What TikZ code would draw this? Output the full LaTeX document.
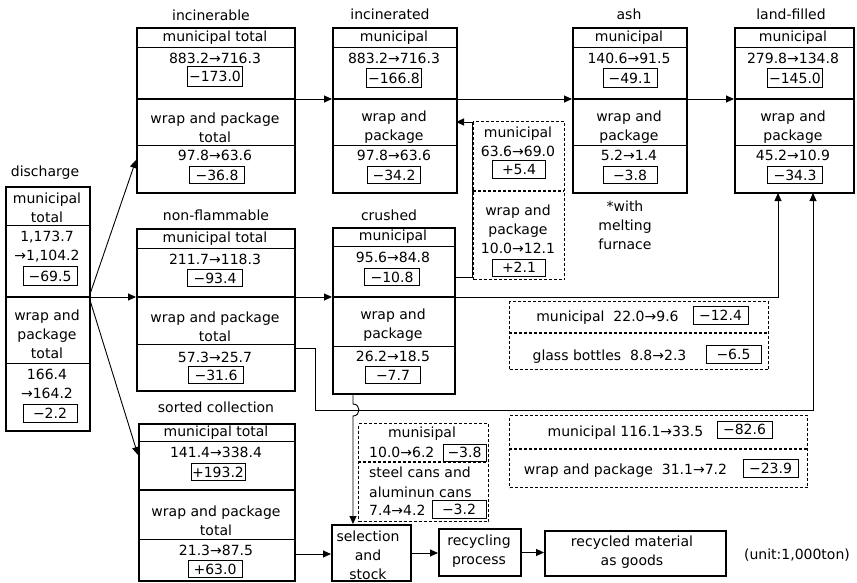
\documentclass[tikz,border=0pt]{standalone}
\usepackage{fontspec}
\setmainfont{DejaVu Sans}
\usetikzlibrary{arrows.meta}
\begin{document}
\begin{tikzpicture}[x=1pt,y=-1pt,
  every node/.style={font=\fontsize{14}{19}\selectfont, inner sep=0pt, align=center},
  mainbox/.style={draw, line width=2pt, anchor=north west},
  valbox/.style={draw, line width=0.8pt, minimum width=55pt, minimum height=18pt},
  dbox/.style={draw, line width=1.4pt, dash pattern=on 3pt off 2pt, anchor=north west},
  dline/.style={line width=1.4pt, dash pattern=on 3pt off 2pt},
  thinln/.style={line width=0.8pt},
  thickln/.style={line width=2pt},
  arr/.style={line width=0.9pt, -{Triangle[length=8pt,width=7pt]}},
  lft/.style={anchor=west},
]
\useasboundingbox (0,0) rectangle (857,582);

% ---------- main boxes ----------
\node[mainbox, minimum width=84pt,  minimum height=244pt] (dis) at (5,186) {};
\node[mainbox, minimum width=158pt, minimum height=165pt] (inb) at (136,27) {};
\node[mainbox, minimum width=124pt, minimum height=165pt] (ind) at (332,27) {};
\node[mainbox, minimum width=114pt, minimum height=165pt] (ash) at (572,27) {};
\node[mainbox, minimum width=119pt, minimum height=165pt] (lf)  at (734,27) {};
\node[mainbox, minimum width=158pt, minimum height=162pt] (nf)  at (136,228) {};
\node[mainbox, minimum width=122pt, minimum height=166pt] (cr)  at (332,227) {};
\node[mainbox, minimum width=156pt, minimum height=157pt] (sc)  at (138,423) {};
\node[mainbox, minimum width=79pt,  minimum height=56pt]  (sel) at (331,524) {};
\node[mainbox, minimum width=82pt,  minimum height=47pt]  (rp)  at (438,528) {};
\node[mainbox, minimum width=181pt, minimum height=45pt]  (rm)  at (544,530) {};

% dashed boxes
\node[dbox, minimum width=91pt,  minimum height=158pt] (da) at (473,121) {};
\node[dbox, minimum width=259pt, minimum height=68pt]  (db) at (509,301) {};
\node[dbox, minimum width=298pt, minimum height=72pt]  (dc) at (509,415) {};
\node[dbox, minimum width=130pt, minimum height=98pt]  (dd) at (358,423) {};

% ---------- dividers ----------
% discharge
\draw[thinln] (5,225) -- (89,225);
\draw[thickln] (5,297) -- (89,297);
\draw[thinln] (5,363) -- (89,363);
% top row
\foreach \a/\b in {136/294, 332/456, 572/686, 734/853}{
  \draw[thinln] (\a,47) -- (\b,47);
  \draw[thickln] (\a,99) -- (\b,99);
  \draw[thinln] (\a,145) -- (\b,145);
}
% non-flammable
\draw[thinln] (136,248) -- (294,248);
\draw[thickln] (136,297) -- (294,297);
\draw[thinln] (136,344) -- (294,344);
% crushed
\draw[thinln] (332,246) -- (454,246);
\draw[thickln] (332,297) -- (454,297);
\draw[thinln] (332,346) -- (454,346);
% sorted collection
\draw[thinln] (138,441) -- (294,441);
\draw[thickln] (138,490) -- (294,490);
\draw[thinln] (138,539) -- (294,539);
% dashed dividers
\draw[dline] (473,191) -- (564,191);
\draw[dline] (509,333) -- (768,333);
\draw[dline] (509,449) -- (807,449);
\draw[dline] (358,462) -- (488,462);

% ---------- discharge ----------
\node (tdis) at (45,173) {discharge};
\node (dis1) at (47,207.5) {municipal\\total};
\node (dis2) at (47,247) {1,173.7\\→1,104.2};
\node[valbox, minimum width=54pt, minimum height=19pt] (dis3) at (50,276) {−69.5};
\node (dis4) at (47,334.5) {wrap and\\package\\total};
\node (dis5) at (47,383.5) {166.4\\→164.2};
\node[valbox, minimum width=54pt, minimum height=18pt] (dis6) at (50,413) {−2.2};

% ---------- incinerable ----------
\node (tinb) at (211,15) {incinerable};
\node (inb1) at (215,37.5) {municipal total};
\node (inb2) at (215,58.5) {883.2→716.3};
\node[valbox, minimum height=20pt] (inb3) at (215,76) {−173.0};
\node (inb4) at (215,127.5) {wrap and package\\total};
\node (inb5) at (215,155.5) {97.8→63.6};
\node[valbox, minimum height=17pt] (inb6) at (217,175) {−36.8};

% ---------- incinerated ----------
\node (tind) at (390,14) {incinerated};
\node (ind1) at (394,37.5) {municipal};
\node (ind2) at (394,58.5) {883.2→716.3};
\node[valbox, minimum height=19pt] (ind3) at (394,78) {−166.8};
\node (ind4) at (394,127) {wrap and\\package};
\node (ind5) at (394,155.5) {97.8→63.6};
\node[valbox, minimum width=53pt, minimum height=17pt] (ind6) at (394,175) {−34.2};

% ---------- ash ----------
\node (tash) at (629,14) {ash};
\node (ash1) at (629,37.5) {municipal};
\node (ash2) at (629,58.5) {140.6→91.5};
\node[valbox, minimum width=54pt, minimum height=19pt] (ash3) at (630,78) {−49.1};
\node (ash4) at (629,127) {wrap and\\package};
\node (ash5) at (629,155.5) {5.2→1.4};
\node[valbox, minimum width=54pt, minimum height=17pt] (ash6) at (630,175) {−3.8};

% ---------- land-filled ----------
\node (tlf) at (791,14) {land-filled};
\node (lf1) at (793,37.5) {municipal};
\node (lf2) at (793,58.5) {279.8→134.8};
\node[valbox, minimum height=19pt] (lf3) at (795,78) {−145.0};
\node (lf4) at (793,127) {wrap and\\package};
\node (lf5) at (793,155.5) {45.2→10.9};
\node[valbox, minimum height=17pt] (lf6) at (795,175) {−34.3};

% ---------- non-flammable ----------
\node (tnf) at (216,215) {non-flammable};
\node (nf1) at (215,238.5) {municipal total};
\node (nf2) at (215,259.5) {211.7→118.3};
\node[valbox, minimum height=17pt] (nf3) at (215,278) {−93.4};
\node (nf4) at (215,326.5) {wrap and package\\total};
\node (nf5) at (215,357.5) {57.3→25.7};
\node[valbox, minimum height=17pt] (nf6) at (216,375) {−31.6};

% ---------- crushed ----------
\node (tcr) at (389,215) {crushed};
\node (cr1) at (393,237) {municipal};
\node (cr2) at (393,257.5) {95.6→84.8};
\node[valbox, minimum height=17pt] (cr3) at (392,277) {−10.8};
\node (cr4) at (393,325.5) {wrap and\\package};
\node (cr5) at (393,356.5) {26.2→18.5};
\node[valbox, minimum height=17pt] (cr6) at (393,375) {−7.7};

% ---------- sorted collection ----------
\node (tsc) at (216,407) {sorted collection};
\node (sc1) at (216,432.5) {municipal total};
\node (sc2) at (216,452.5) {141.4→338.4};
\node[valbox, minimum width=54pt, minimum height=17pt] (sc3) at (218,472) {+193.2};
\node (sc4) at (216,521) {wrap and package\\total};
\node (sc5) at (216,550.5) {21.3→87.5};
\node[valbox, minimum width=54pt, minimum height=17pt] (sc6) at (215,569) {+63.0};

% ---------- bottom chain ----------
\node (sel1) at (368,555.5) {selection\\and\\stock};
\node (rp1) at (479,551) {recycling\\process};
\node (rm1) at (632,552) {recycled material\\as goods};
\node (unit) at (797,555) {(unit:1,000ton)};

% ---------- dashed box contents ----------
\node (da1) at (518,142) {municipal\\63.6→69.0};
\node[valbox, minimum width=53pt, minimum height=18pt] (da2) at (519,169) {+5.4};
\node (da3) at (518,229.5) {wrap and\\package\\10.0→12.1};
\node[valbox, minimum width=53pt, minimum height=17pt] (da4) at (519,267.5) {+2.1};

\node (db1) at (607.5,317.5) {municipal\ \ 22.0→9.6};
\node[valbox, minimum height=18pt] (db2) at (720.5,315) {−12.4};
\node (db3) at (609.5,356.5) {glass bottles\ \ 8.8→2.3};
\node[valbox, minimum height=18pt] (db4) at (733.5,354) {−6.5};

\node (dc1) at (625.5,432.5) {municipal 116.1→33.5};
\node[valbox, minimum height=17pt] (dc2) at (744.5,429.5) {−82.6};
\node (dc3) at (625.5,470.5) {wrap and package\ \ 31.1→7.2};
\node[valbox, minimum height=18pt] (dc4) at (770.5,468) {−23.9};

\node (dd1) at (422,433.5) {munisipal};
\node[lft] (dd2) at (369,452.5) {10.0→6.2};
\node[valbox, minimum width=43pt, minimum height=17pt] (dd3) at (464.5,452.5) {−3.8};
\node[lft] (dd4) at (369,472.5) {steel cans and};
\node[lft] (dd5) at (369,492.5) {aluminun cans};
\node[lft] (dd6) at (369,510.5) {7.4→4.2};
\node[valbox, minimum width=54pt, minimum height=18pt] (dd7) at (459,509) {−3.2};

\node (note) at (625,225.5) {*with\\melting\\furnace};

% ---------- connectors ----------
\coordinate (dOut) at (89,297);
\coordinate (inbIn) at (136,160);
\coordinate (nfIn) at (136,297);
\coordinate (scIn) at (138,455);
\draw[arr] (dOut) -- (inbIn);
\draw[arr] (dOut) -- (nfIn);
\draw[arr] (dOut) -- (scIn);

\coordinate (inbR) at (294,99);
\coordinate (indL) at (332,99);
\coordinate (indR) at (456,99);
\coordinate (ashL) at (572,99);
\coordinate (ashR) at (686,99);
\coordinate (lfL) at (734,99);
\draw[arr] (inbR) -- (indL);
\draw[arr] (indR) -- (ashL);
\draw[arr] (ashR) -- (lfL);

\coordinate (nfR) at (294,297);
\coordinate (crL) at (332,297);
\draw[arr] (nfR) -- (crL);

\coordinate (crR) at (454,297);
\coordinate (lfB1) at (778,193);
\draw[arr] (crR) -| (lfB1);

\coordinate (crR2) at (454,277);
\coordinate (indR2) at (456,122);
\draw[arr] (crR2) -- (472,277) -- (472,122) -- (indR2);

\coordinate (nfR2) at (294,348);
\coordinate (lfB2) at (813,193);
\draw[arr] (nfR2) -- (315,348) -- (315,410) -| (lfB2);

\coordinate (crB) at (353,393);
\coordinate (selT) at (353,524);
\draw[arr] (crB) -- (353,404) .. controls (361,404) and (361,416) .. (353,416) -- (selT);

\coordinate (scOut) at (294,554);
\draw[arr] (scOut) -- (scOut -| sel.west);
\draw[arr] (sel.east) -- (sel.east -| rp.west);
\draw[arr] (rp.east) -- (rp.east -| rm.west);
\end{tikzpicture}
\end{document}
